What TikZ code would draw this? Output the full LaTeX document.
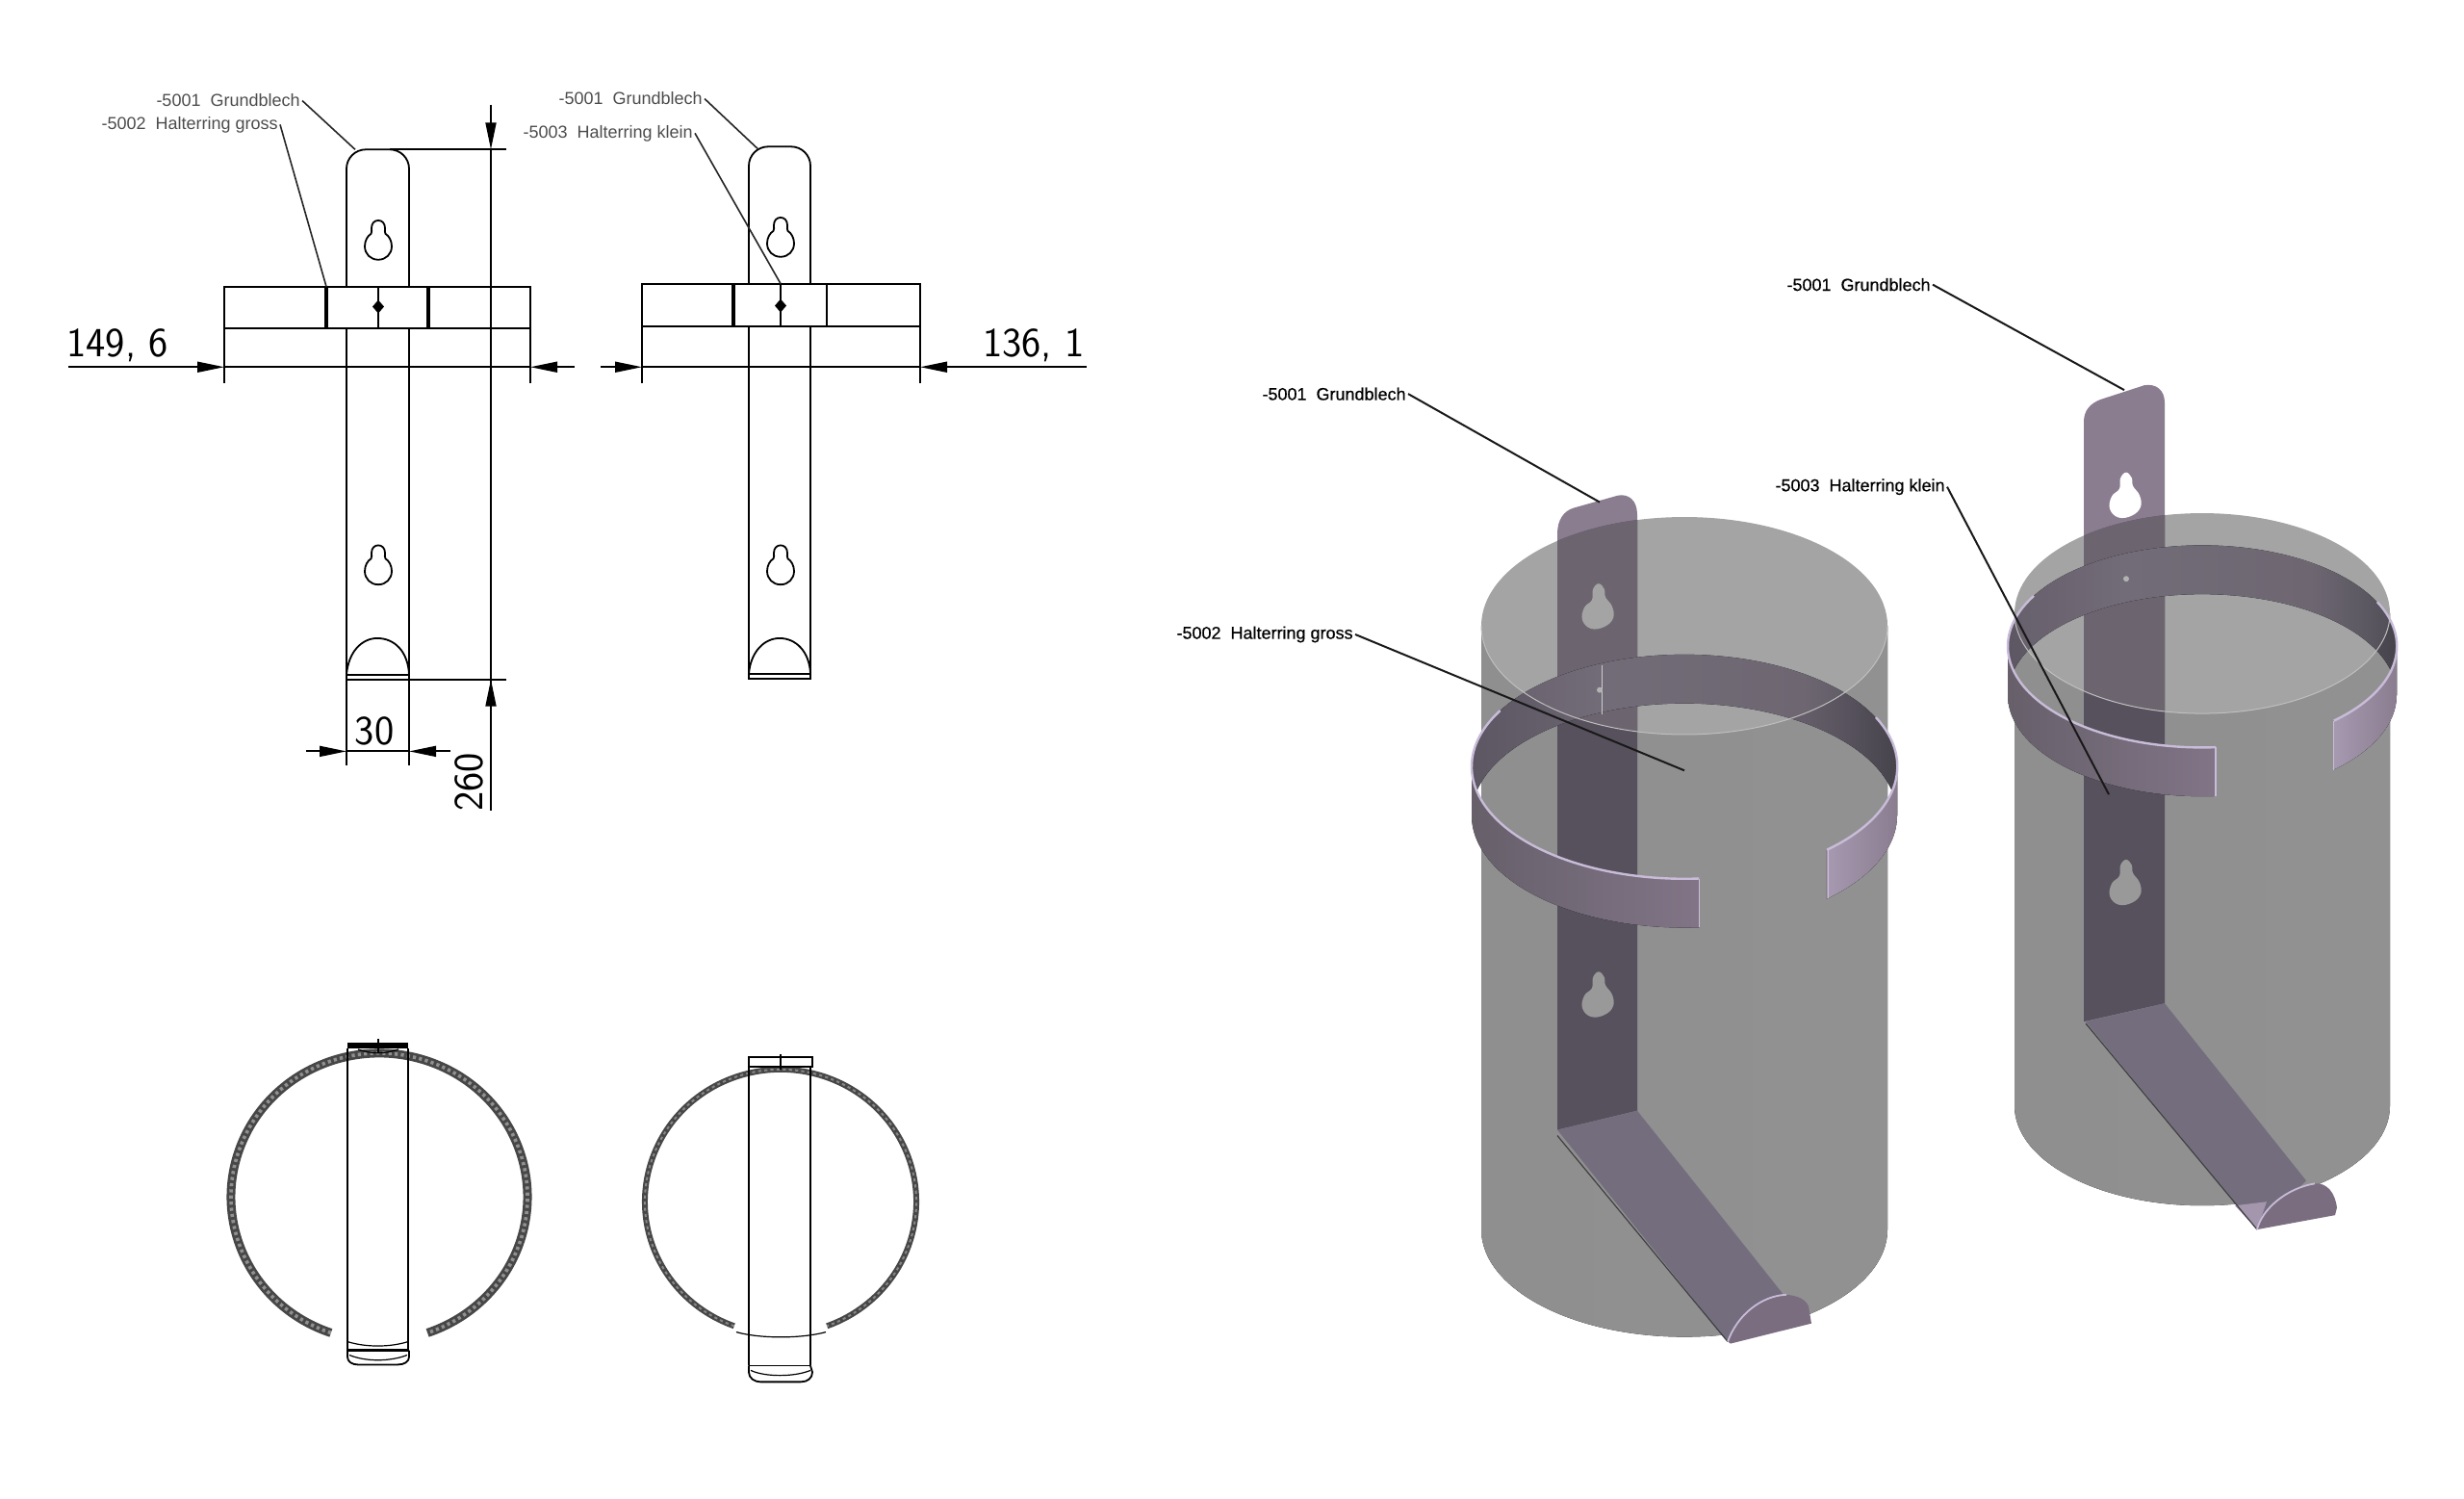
\documentclass[tikz,border=0pt]{standalone}
\usepackage{fontspec}
\setmainfont{Liberation Sans}
\newfontfamily\boldishfont[FakeBold=0.5]{Liberation Sans}
\usetikzlibrary{arrows.meta}
\definecolor{stripLight}{HTML}{8A7D90}
\definecolor{stripMid}{HTML}{6C6570}
\definecolor{stripDark}{HTML}{57515D}
\definecolor{footCol}{HTML}{746D7E}
\definecolor{hookCol}{HTML}{7A6D80}
\definecolor{rimCol}{HTML}{C8BCD8}
\definecolor{topCol}{HTML}{A4A4A4}
\definecolor{bandA}{HTML}{5D5663}
\definecolor{bandB}{HTML}{6A6370}
\definecolor{bandC}{HTML}{655E6A}
\definecolor{bandD}{HTML}{524E58}
\definecolor{bandE}{HTML}{46434B}
\pgfdeclarehorizontalshading{ringshade}{100bp}{color(0bp)=(bandA); color(25bp)=(bandA); color(40bp)=(bandB); color(64bp)=(bandC); color(71bp)=(bandD); color(75bp)=(bandE); color(100bp)=(bandE)}
\tikzset{
  ln/.style={line width=.9pt,black},
  thk/.style={line width=1.6pt,black},
  dimarrow/.style={ln,-{Triangle[length=14pt,width=5.5pt]}},
  leader/.style={line width=.8pt,black!85},
  leaderthree/.style={line width=1pt,black!90},
  dimtext/.style={inner sep=0pt,font=\fontsize{21.5}{24}\sffamily\selectfont},
  labelflat/.style={inner sep=1pt,anchor=east,text=black!70,font=\fontsize{9}{10}\selectfont},
  label3d/.style={inner sep=1pt,anchor=east,text=black,font=\fontsize{9}{10}\selectfont\boldishfont},
  hatchA/.style={black!72,line width=4.5pt},
  hatchB/.style={white,line width=1.8pt,dash pattern=on 1.6pt off 1.6pt,opacity=.4},
  hatchC/.style={black!72,line width=3pt},
  hatchD/.style={white,line width=1pt,dash pattern=on 1.6pt off 1.6pt,opacity=.35},
  holeflat/.pic={\path[pic actions] (0,0) .. controls (-4,0) and (-7,3) .. (-7,8)
     .. controls (-7,11) and (-6.5,12) .. (-7.5,14) .. controls (-11,16) and (-14,21) .. (-14,27)
     .. controls (-14,35) and (-8,41) .. (0,41) .. controls (8,41) and (14,35) .. (14,27)
     .. controls (14,21) and (11,16) .. (7.5,14) .. controls (6.5,12) and (7,11) .. (7,8)
     .. controls (7,3) and (4,0) .. (0,0) -- cycle;},
  holeskew/.pic={\path[pic actions] plot[smooth cycle,tension=.7] coordinates
     {(0,0) (6,6) (7,14) (14,24) (15,36) (6,45) (-8,47) (-17,38) (-15,25) (-7,17) (-6,6)};},
}
% cx, rx, top y, top ry, bottom y, bottom ry
\newcommand\cylbase[6]{%
  \fill[left color=black!44!white,middle color=black!40!white,right color=black!43!white]
    (#1-#2,#3) -- (#1-#2,#5) arc[start angle=180,end angle=0,x radius=#2,y radius=#6] -- (#1+#2,#3) -- cycle;
  \fill[topCol] (#1,#3) ellipse[x radius=#2,y radius=#4];
}
% strip layers: path macro, then cylinder data
\newcommand\striplayers[7]{%
  \fill[stripLight] #1;
  \begin{scope}
    \clip (#2-#3,#4) arc[start angle=180,end angle=360,x radius=#3,y radius=#5] -- (#2+#3,#6)
       arc[start angle=0,end angle=180,x radius=#3,y radius=#7] -- cycle;
    \fill[stripDark] #1;
  \end{scope}
  \begin{scope}
    \clip (#2,#4) ellipse[x radius=#3,y radius=#5];
    \fill[stripMid] #1;
  \end{scope}
}
\newcommand\ringback[5]{%
  \fill[shading=ringshade]
    (#1-#2,#4) arc[start angle=180,end angle=360,x radius=#2,y radius=#3]
    -- (#1+#2,#5) arc[start angle=0,end angle=-180,x radius=#2,y radius=#3] -- cycle;
}
\newcommand\ringfront[7]{%
  \fill[left color=stripMid!95!black,middle color=hookCol!92!black,right color=hookCol!95!white]
    (#1-#2,#4) arc[start angle=180,end angle=#6,x radius=#2,y radius=#3]
    -- ++(0,#5-#4) arc[start angle=#6,end angle=180,x radius=#2,y radius=#3] -- cycle;
  \fill[left color=stripLight!55!rimCol,right color=stripLight]
    (#1+#2,#4) arc[start angle=0,end angle=#7,x radius=#2,y radius=#3]
    -- ++(0,#5-#4) arc[start angle=#7,end angle=0,x radius=#2,y radius=#3] -- cycle;
  \draw[rimCol,line width=1.2pt] (#1-#2*.866,#4-#3*.5) arc[start angle=210,end angle=#6,x radius=#2,y radius=#3];
  \draw[rimCol,line width=.7pt] (#1+#2*.0698,#4+#3*.9976) -- ++(0,#5-#4);
  \draw[rimCol,line width=1.2pt] (#1+#2*.9,#4-#3*.44) arc[start angle=-26,end angle=#7,x radius=#2,y radius=#3];
  \draw[rimCol,line width=.7pt] (#1+#2*.6756,#4+#3*.7373) -- ++(0,#5-#4);
}
\begin{document}
\begin{tikzpicture}[x=.5pt,y=-.4977pt]
\useasboundingbox (0,0) rectangle (2560,1564);

% ---------- left front view ----------
\draw[ln] (360,299) -- (360,176) .. controls (360,165) and (369,156) .. (380,156) -- (405,156)
   .. controls (416,156) and (425,165) .. (425,176) -- (425,299);
\draw[ln] (360,342) -- (360,709) -- (425,709) -- (425,342);
\draw[ln] (360,704) -- (425,704);
\draw[ln] (360,704) .. controls (362,680) and (376,666) .. (392,666) .. controls (410,666) and (424,680) .. (425,704);
\draw[ln] (233,299) rectangle (551,342.6);
\draw[thk] (339,299) -- (339,342) (445,299) -- (445,342);
\draw[ln] (393,299) -- (393,342);
\fill (393,313) -- (399,320) -- (393,327) -- (387,320) -- cycle;
\pic[draw=black,line width=.9pt] at (393,230) {holeflat};
\pic[draw=black,line width=.9pt] at (393,569) {holeflat};
\draw[ln] (233,342) -- (233,400) (551,342) -- (551,400);
\draw[ln] (233,383) -- (551,383);
\coordinate (dl1) at (71,383); \coordinate (dl2) at (233,383);
\coordinate (dl3) at (597,383); \coordinate (dl4) at (551,383);
\draw[dimarrow] (dl1) -- (dl2);
\draw[dimarrow] (dl3) -- (dl4);
\node[dimtext,anchor=south west] (t149) at (69,378) {149, 6};
% width dim
\draw[ln] (360,709) -- (360,799) (425,709) -- (425,799);
\draw[ln] (360,784) -- (425,784);
\coordinate (w1) at (318,784); \coordinate (w2) at (360,784);
\coordinate (w3) at (468,784); \coordinate (w4) at (425,784);
\draw[dimarrow] (w1) -- (w2);
\draw[dimarrow] (w3) -- (w4);
\node[dimtext,anchor=south] (t30) at (389,778) {30};
% height dim
\draw[ln] (405,156) -- (526,156) (425,709) -- (526,709);
\draw[ln] (510,156) -- (510,846);
\coordinate (h1) at (510,110); \coordinate (h2) at (510,156);
\coordinate (h3) at (510,760); \coordinate (h4) at (510,709);
\draw[dimarrow] (h1) -- (h2);
\draw[dimarrow] (h3) -- (h4);
\node[dimtext,rotate=90,anchor=south west] (t260) at (503,847) {260};
% leaders
\node[labelflat] (a1) at (314,105) {-5001\ \ Grundblech};
\node[labelflat] (a2) at (291,130) {-5002\ \ Halterring gross};
\coordinate (a1e) at (369,156); \coordinate (a2e) at (339,299);
\draw[leader] (a1.east) -- (a1e);
\draw[leader] (a2.east) -- (a2e);

% ---------- right front view ----------
\draw[ln] (778,296) -- (778,173) .. controls (778,162) and (787,153) .. (798,153) -- (822,153)
   .. controls (833,153) and (842,162) .. (842,173) -- (842,296);
\draw[ln] (778,340) -- (778,708) -- (842,708) -- (842,340);
\draw[ln] (778,703) -- (842,703);
\draw[ln] (778,703) .. controls (780,680) and (794,666) .. (810,666) .. controls (827,666) and (841,680) .. (842,703);
\draw[ln] (667,296) rectangle (956,340.6);
\draw[thk] (762,296) -- (762,340);
\draw[ln] (859,296) -- (859,340);
\draw[ln] (811,296) -- (811,340);
\fill (811,312) -- (817,319) -- (811,326) -- (805,319) -- cycle;
\pic[draw=black,line width=.9pt] at (811,227) {holeflat};
\pic[draw=black,line width=.9pt] at (811,569) {holeflat};
\draw[ln] (667,340) -- (667,400) (956,340) -- (956,400);
\draw[ln] (667,383) -- (956,383);
\coordinate (dr1) at (624,383); \coordinate (dr2) at (667,383);
\coordinate (dr3) at (1129,383); \coordinate (dr4) at (956,383);
\draw[dimarrow] (dr1) -- (dr2);
\draw[dimarrow] (dr3) -- (dr4);
\node[dimtext,anchor=south east] (t136) at (1127,378) {136, 1};
\node[labelflat] (b1) at (732,103) {-5001\ \ Grundblech};
\node[labelflat] (b2) at (722,139) {-5003\ \ Halterring klein};
\coordinate (b1e) at (787,155); \coordinate (b2e) at (811,296);
\draw[leader] (b1.east) -- (b1e);
\draw[leader] (b2.east) -- (b2e);

\begin{scope}[shift={(0,4)}]
% ---------- left top view ----------
\draw[hatchA] (394,1245)+(109:154 and 150) arc[start angle=109,end angle=431,x radius=154,y radius=150];
\draw[hatchB] (394,1245)+(109:154 and 150) arc[start angle=109,end angle=431,x radius=154,y radius=150];
\draw[ln] (361,1090) -- (361,1405) (424,1090) -- (424,1405);
\fill (361,1084) rectangle (424,1090);
\draw[ln] (393,1080) -- (393,1094);
\draw[ln,line width=.6pt] (372,1091) .. controls (385,1096) and (400,1096) .. (414,1091);
\draw[ln,line width=.6pt] (361,1396) .. controls (380,1402) and (405,1402) .. (424,1396);
\draw[thk] (361,1405) -- (424,1405);
\draw[ln] (361,1405) -- (361,1412) .. controls (361,1417) and (366,1420) .. (372,1420) -- (413,1420)
   .. controls (420,1420) and (425,1417) .. (425,1412) -- (425,1405);
\draw[ln,line width=.6pt] (363,1410) .. controls (380,1417) and (405,1417) .. (423,1410);

% ---------- right top view ----------
\draw[hatchC] (811,1250)+(110:141 and 138) arc[start angle=110,end angle=430,x radius=141,y radius=138];
\draw[hatchD] (811,1250)+(110:141 and 138) arc[start angle=110,end angle=430,x radius=141,y radius=138];
\draw[ln] (778,1110) -- (778,1421) (842,1110) -- (842,1421);
\draw[ln] (778,1099) rectangle (844,1109);
\draw[ln] (811,1096) -- (811,1112);
\draw[ln,line width=.6pt] (765,1386) .. controls (790,1393) and (832,1393) .. (858,1386);
\draw[ln] (778,1421) -- (842,1421);
\draw[ln] (778,1421) -- (778,1428) .. controls (778,1434) and (784,1438) .. (790,1438) -- (832,1438)
   .. controls (839,1438) and (844,1434) .. (844,1428) -- (842,1421);
\draw[ln,line width=.6pt] (780,1426) .. controls (795,1433) and (825,1433) .. (842,1426);
\end{scope}

% ---------- left 3D assembly ----------
\cylbase{1750}{211}{653}{113.5}{1283}{112}
\def\stripA{(1618,1179) -- (1618,557) .. controls (1618,542) and (1625,533) .. (1635,530) -- (1681,517)
   .. controls (1692,515) and (1701,522) .. (1701,537) -- (1701,1159) -- cycle}
\striplayers{\stripA}{1750}{211}{653}{113.5}{1283}{112}
\pic[fill=topCol] at (1661,609) {holeskew};
\pic[fill=black!40!white] at (1661,1014) {holeskew};
\fill[footCol] (1618,1179) -- (1701,1159) -- (1853,1351) -- (1795,1400) -- cycle;
\draw[black!75,line width=.6pt] (1618,1185) -- (1795,1400);
\fill[hookCol] (1795,1400) .. controls (1805,1372) and (1830,1352) .. (1856,1351) .. controls (1868,1352) and (1876,1356) .. (1879,1363)
   -- (1882,1381) -- (1798,1402) -- cycle;
\draw[rimCol,line width=.9pt] (1795,1400) .. controls (1805,1372) and (1830,1352) .. (1856,1351);
\ringback{1750}{221}{117}{800}{851}
\begin{scope}
  \clip (1750,653) ellipse[x radius=211,y radius=113.5];
  \fill[white,opacity=.06] (1529,800) arc[start angle=180,end angle=360,x radius=221,y radius=117]
    -- (1971,851) arc[start angle=0,end angle=-180,x radius=221,y radius=117] -- cycle;
\end{scope}
\draw[black!25,line width=.5pt] (1539,653) arc[start angle=180,end angle=0,x radius=211,y radius=113.5];
\draw[black!20,line width=.5pt] (1664,694) -- (1664,745);
\fill[black!30] (1662,720) circle[radius=3];
\ringfront{1750}{221}{117}{800}{851}{86}{48}
\node[label3d] (c1) at (1463,411) {-5001\ \ Grundblech};
\node[label3d] (c2) at (1408,662) {-5002\ \ Halterring gross};
\coordinate (c1e) at (1662,524); \coordinate (c2e) at (1750,804);
\draw[leaderthree] (c1.east) -- (c1e);
\draw[leaderthree] (c2.east) -- (c2e);

% ---------- right 3D assembly ----------
\cylbase{2288}{195}{640}{104.5}{1154}{104}
\def\stripB{(2165,1066) -- (2165,440) .. controls (2165,428) and (2172,421) .. (2182,417) -- (2228,402)
   .. controls (2240,400) and (2249,407) .. (2249,420) -- (2249,1047) -- cycle}
\striplayers{\stripB}{2288}{195}{640}{104.5}{1154}{104}
\pic[fill=white] at (2209,493) {holeskew};
\pic[fill=black!40!white] at (2209,897) {holeskew};
\fill[footCol] (2167,1066) -- (2249,1047) -- (2396,1232) -- (2345,1283) -- cycle;
\fill[stripLight!60!rimCol] (2322,1258) -- (2355,1254) -- (2345,1283) -- cycle;
\draw[black!75,line width=.6pt] (2167,1068) -- (2345,1283);
\fill[hookCol] (2345,1283) .. controls (2350,1262) and (2375,1240) .. (2405,1235) .. controls (2418,1234) and (2426,1245) .. (2428,1260)
   -- (2426,1268) -- cycle;
\draw[rimCol,line width=.9pt] (2345,1283) .. controls (2350,1262) and (2375,1240) .. (2405,1235);
\ringback{2288}{202}{105.5}{674.5}{725.5}
\begin{scope}
  \clip (2288,640) ellipse[x radius=195,y radius=104.5];
  \fill[white,opacity=.06] (2086,674.5) arc[start angle=180,end angle=360,x radius=202,y radius=105.5]
    -- (2490,725.5) arc[start angle=0,end angle=-180,x radius=202,y radius=105.5] -- cycle;
\end{scope}
\draw[black!25,line width=.5pt] (2093,640) arc[start angle=180,end angle=0,x radius=195,y radius=104.5];
\fill[black!30] (2209,604) circle[radius=3];
\ringfront{2288}{202}{105.5}{674.5}{725.5}{86}{47.5}
\node[label3d] (d1) at (2008,297) {-5001\ \ Grundblech};
\node[label3d] (d2) at (2023,508) {-5003\ \ Halterring klein};
\coordinate (d1e) at (2207,407); \coordinate (d2e) at (2191,829);
\draw[leaderthree] (d1.east) -- (d1e);
\draw[leaderthree] (d2.east) -- (d2e);
\end{tikzpicture}
\end{document}
